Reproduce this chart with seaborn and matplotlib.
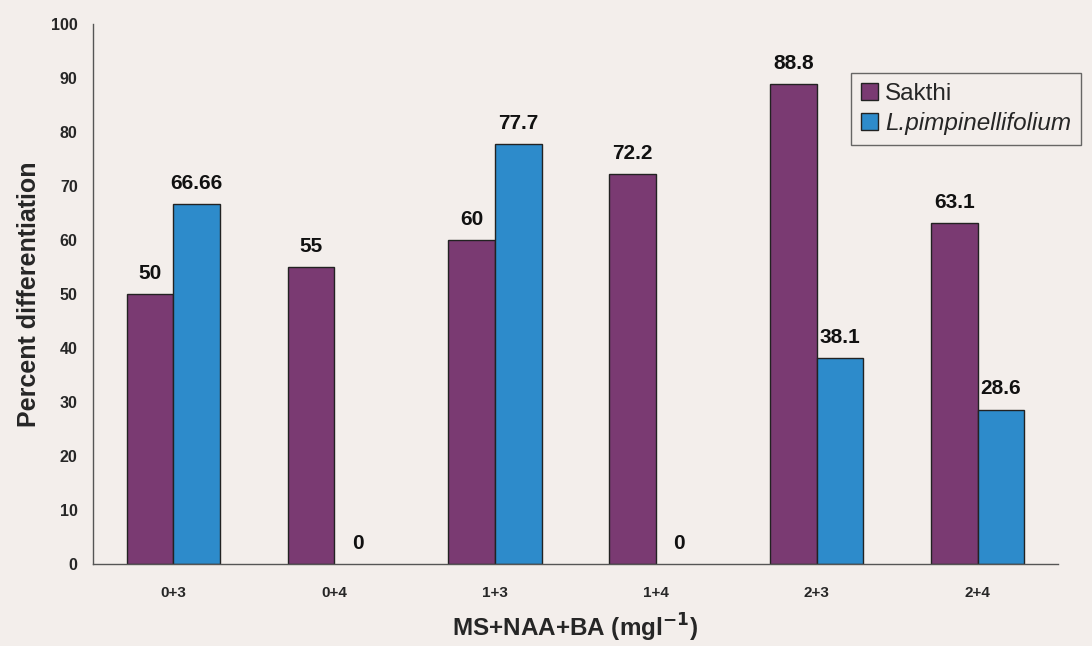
import matplotlib
matplotlib.use("Agg")
import matplotlib.pyplot as plt
from matplotlib.ticker import FixedLocator
import pandas as pd
import seaborn as sns

# Treatment combinations (MS + NAA + BA, mg/l)
treatments = ["0+3", "0+4", "1+3", "1+4", "2+3", "2+4"]
sakthi = [50, 55, 60, 72.2, 88.8, 63.1]
pimpinellifolium = [66.66, 0, 77.7, 0, 38.1, 28.6]
genotypes = ["Sakthi", "L.pimpinellifolium"]
y_ticks = list(range(0, 101, 10))

df = pd.DataFrame({
    "treatment": treatments * 2,
    "value": sakthi + pimpinellifolium,
    "genotype": [genotypes[0]] * len(treatments) + [genotypes[1]] * len(treatments),
})

bg = "#f3eeeb"
palette = {genotypes[0]: "#7a3a72", genotypes[1]: "#2d8bcb"}

sns.set_style("white")
plt.rcParams["font.family"] = ["Liberation Sans", "DejaVu Sans"]

fig = plt.figure(figsize=(10.92, 6.46), dpi=100, facecolor=bg)
ax = fig.add_axes([93 / 1092, 1 - 564 / 646, 965 / 1092, 540 / 646])
ax.set_facecolor(bg)

sns.barplot(data=df, x="treatment", y="value", hue="genotype",
            order=treatments, hue_order=genotypes, palette=palette,
            width=0.58, edgecolor="#222222", linewidth=1.0,
            saturation=1, ax=ax, legend=True)

# empty bars get no outline
for cont in ax.containers:
    for patch in cont:
        if patch.get_height() == 0:
            patch.set_linewidth(0)

# value labels above each bar
for cont, vals in zip(ax.containers, [sakthi, pimpinellifolium]):
    ax.bar_label(cont, labels=[f"{v:g}" for v in vals], padding=8,
                 fontsize=15, fontweight="bold", color="#111111")

ax.set_xlim(-0.5, len(treatments) - 0.5)
ax.set_ylim(0, 100)
ax.set_yticks(y_ticks)
ax.xaxis.set_minor_locator(FixedLocator([i - 0.5 for i in range(len(treatments) + 1)]))
ax.tick_params(axis="x", which="major", length=0, pad=16, labelsize=11)
ax.tick_params(axis="x", which="minor", length=4, width=1, color="#444444", direction="out")
ax.tick_params(axis="y", length=4, width=1, color="#444444", labelsize=11.5, pad=7, direction="out")
for lab in ax.get_xticklabels() + ax.get_yticklabels():
    lab.set_fontweight("bold")

for s in ["top", "right"]:
    ax.spines[s].set_visible(False)
for s in ["left", "bottom"]:
    ax.spines[s].set_color("#555555")
    ax.spines[s].set_linewidth(1.0)

ax.set_xlabel("MS+NAA+BA (mgl$^{\\mathbf{-1}}$)", fontsize=17.5, fontweight="bold", labelpad=8)
ax.set_ylabel("Percent differentiation", fontsize=18, fontweight="bold", labelpad=7)

leg = ax.legend(loc="upper left", bbox_to_anchor=(851 / 1092, 1 - 73 / 646),
                bbox_transform=fig.transFigure, frameon=True, fontsize=17.5,
                handlelength=0.7, handleheight=0.7, handletextpad=0.3,
                borderpad=0.4, labelspacing=0.3, fancybox=False,
                borderaxespad=0)
leg.get_frame().set_edgecolor("#444444")
leg.get_frame().set_facecolor(bg)
leg.get_frame().set_linewidth(1.0)
leg.get_texts()[1].set_fontstyle("italic")

fig.savefig("out.png", dpi=100, facecolor=bg)
